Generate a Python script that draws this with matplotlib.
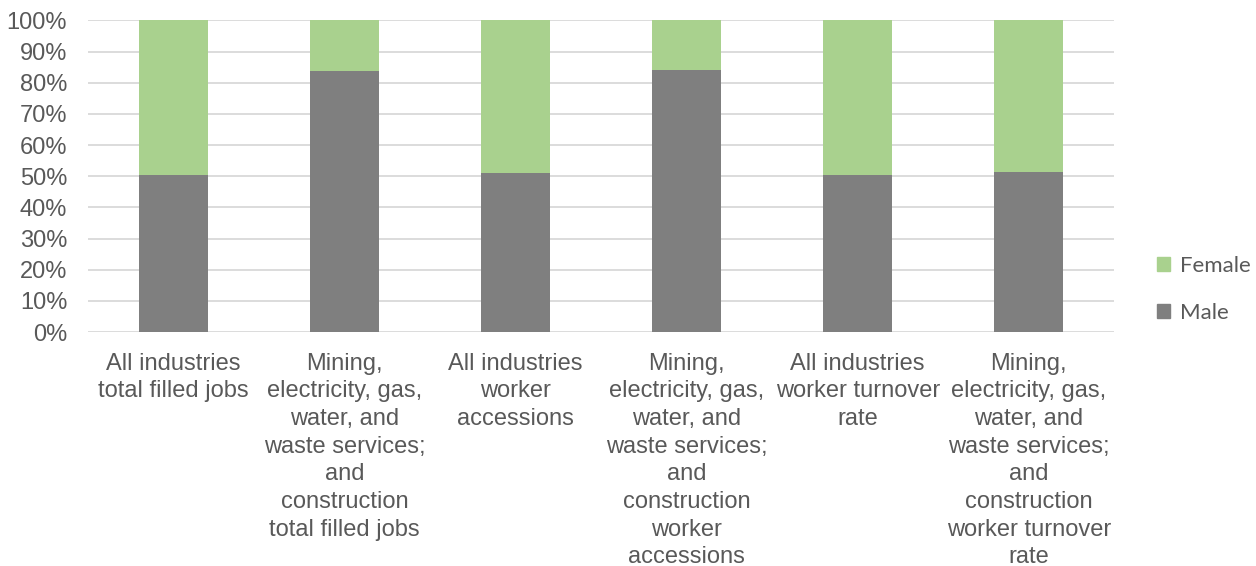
import numpy as np
import matplotlib
matplotlib.use("Agg")
import matplotlib.pyplot as plt
from matplotlib.patches import Patch

# Data (share of each group, %)
categories = [
    "All industries\ntotal filled jobs",
    "Mining,\nelectricity, gas,\nwater, and\nwaste services;\nand\nconstruction\ntotal filled jobs",
    "All industries\nworker\naccessions",
    "Mining,\nelectricity, gas,\nwater, and\nwaste services;\nand\nconstruction\nworker\naccessions",
    "All industries\nworker turnover\nrate",
    "Mining,\nelectricity, gas,\nwater, and\nwaste services;\nand\nconstruction\nworker turnover\nrate",
]
male = [50.5, 83.7, 51.0, 84.2, 50.3, 51.5]
female = [100 - m for m in male]

MALE_COLOR = "#7f7f7f"
FEMALE_COLOR = "#a9d18e"
TEXT_COLOR = "#595959"

fig = plt.figure(figsize=(12.56, 5.66), dpi=100)
ax = fig.add_axes([0.0701, 0.4134, 0.817, 0.5504])

x = np.arange(len(categories))
ax.bar(x, male, width=0.4, color=MALE_COLOR, zorder=3)
ax.bar(x, female, width=0.4, bottom=male, color=FEMALE_COLOR, zorder=3)

ax.set_xlim(-0.5, len(categories) - 0.5)
ax.set_ylim(0, 100)
ax.set_yticks(np.arange(0, 101, 10))
ax.set_yticklabels([f"{v}%" for v in range(0, 101, 10)])
ax.yaxis.grid(True, color="#d9d9d9", linewidth=1.3, zorder=0)
ax.set_axisbelow(True)

ax.set_xticks(x)
ax.set_xticklabels(categories, linespacing=1.33, va="top")
ax.tick_params(axis="both", length=0, labelsize=17, labelcolor=TEXT_COLOR,
               labelfontfamily="Liberation Sans")
ax.tick_params(axis="x", pad=15)
ax.tick_params(axis="y", pad=15)
for s in ax.spines.values():
    s.set_visible(False)

handles = [Patch(color=FEMALE_COLOR), Patch(color=MALE_COLOR)]
leg = fig.legend(handles, ["Female", "Male"], loc="center left",
                 bbox_to_anchor=(0.905, 0.489), frameon=False,
                 handlelength=0.6, handleheight=0.6, handletextpad=0.45,
                 labelspacing=1.2, prop={"family": "Lato", "size": 16})
for t in leg.get_texts():
    t.set_color(TEXT_COLOR)

fig.savefig("out.png", dpi=100)
